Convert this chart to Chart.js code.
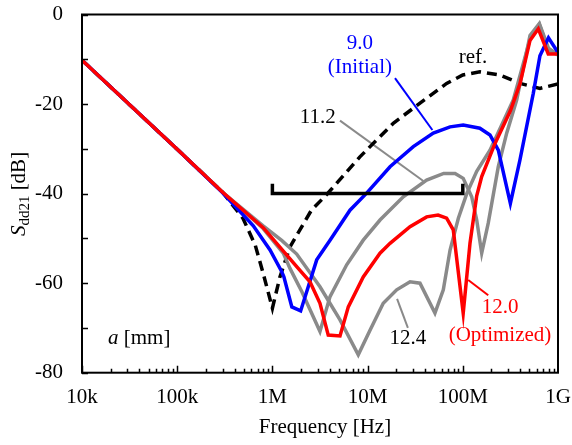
<!DOCTYPE html>
<html><head><meta charset="utf-8">
<script src="https://cdn.jsdelivr.net/npm/chart.js@4.4.1/dist/chart.umd.min.js"></script>
<style>html,body{margin:0;padding:0;background:#fff}#wrap{width:572px;height:445px}</style>
</head><body><div id="wrap"><canvas id="c" width="572" height="445"></canvas></div>
<script>
const FONT = "'Liberation Serif','Times New Roman',serif";

// axis ticks
const xTickValues = [1e4, 1e5, 1e6, 1e7, 1e8, 1e9];
const xTickLabels = ['10k', '100k', '1M', '10M', '100M', '1G'];
const yTickValues = [-80, -60, -40, -20, 0];

// series: reference (dashed)
const refFreq = [1e4, 1e5, 3e5, 4.9e5, 6.6e5, 8.0e5, 1.0e6, 1.2e6, 1.53e6, 2.57e6, 3.72e6, 8.3e6, 1.86e7, 3.55e7, 6.76e7, 1e8, 1.51e8, 2.45e8, 3.98e8, 6.46e8, 1e9];
const refDb   = [-10.2, -30.1, -39.7, -45.5, -51.5, -57.8, -65.6, -58.6, -51.9, -43.7, -40.2, -31.8, -24.3, -19.8, -15.4, -13.5, -12.8, -13.5, -15.4, -16.5, -15.5];

// a = 9.0 (Initial)
const initFreq = [1e4, 1e5, 3e5, 6.3e5, 9.44e5, 1.25e6, 1.32e6, 1.6e6, 1.98e6, 2.38e6, 2.92e6, 4.03e6, 6.53e6, 9.77e6, 1.72e7, 3.02e7, 4.9e7, 7.35e7, 1.01e8, 1.51e8, 1.93e8, 2.36e8, 3.16e8, 3.98e8, 5.5e8, 6.46e8, 7.94e8, 1e9];
const initDb   = [-10.2, -30.1, -39.8, -47.2, -52.6, -57.4, -58.6, -65.3, -66.2, -60.8, -54.8, -50.4, -43.7, -39.9, -34.0, -29.5, -26.5, -25.1, -24.7, -25.4, -26.9, -30.3, -42.2, -32.5, -17.6, -9.2, -5.2, -8.5];

// a = 12.0 (Optimized)
const optFreq = [1e4, 1e5, 3e5, 8.0e5, 1.8e6, 2.48e6, 3.16e6, 3.86e6, 5.13e6, 6.27e6, 9.0e6, 1.35e7, 1.72e7, 2.79e7, 4.17e7, 5.5e7, 6.76e7, 7.94e7, 1.01e8, 1.19e8, 1.4e8, 1.58e8, 2.18e8, 3.16e8, 3.98e8, 5.08e8, 6.21e8, 7.9e8, 1e9];
const optDb   = [-10.2, -30.1, -39.7, -47.6, -56.3, -59.7, -64.5, -71.6, -71.8, -65.3, -58.6, -53.3, -51.1, -47.4, -45.2, -44.8, -45.5, -48.1, -66.7, -51.1, -40.5, -36.2, -28.8, -21.5, -15.5, -5.8, -3.2, -8.8, -8.8];

// a = 11.2
const a112Freq = [1e4, 1e5, 3e5, 8.0e5, 1.3e6, 1.53e6, 2.04e6, 3.16e6, 4.03e6, 6.03e6, 9.0e6, 1.35e7, 2.37e7, 4.17e7, 6.3e7, 8.3e7, 1.01e8, 1.24e8, 1.4e8, 1.58e8, 1.85e8, 2.36e8, 2.89e8, 3.68e8, 5.08e8, 6.37e8, 7.94e8, 1e9];
const a112Db   = [-10.2, -30.1, -39.7, -47.8, -53.3, -56.7, -61.9, -70.8, -63.0, -55.9, -50.4, -45.9, -40.7, -37.0, -35.5, -35.5, -36.6, -40.7, -45.9, -53.3, -46.6, -34.0, -26.5, -19.1, -4.7, -2.0, -7.5, -9.0];

// a = 12.4
const a124Freq = [1e4, 1e5, 3e5, 8.0e5, 1.26e6, 1.8e6, 3.16e6, 5.13e6, 7.98e6, 1.06e7, 1.46e7, 2.02e7, 2.79e7, 3.55e7, 5.1e7, 6.24e7, 7.35e7, 8.98e7, 1.1e8, 1.4e8, 1.93e8, 3.39e8, 5.08e8, 6.37e8, 7.94e8, 1e9];
const a124Db   = [-10.2, -30.1, -39.7, -47.2, -50.5, -53.5, -60.8, -68.2, -76.0, -70.5, -64.5, -61.5, -59.7, -60.0, -66.7, -61.5, -52.6, -45.5, -40.0, -35.0, -30.3, -19.1, -5.5, -2.2, -8.0, -9.0];

// -40 dB bracket 1M..100M
const barFreq = [1e6, 1e6, 1e8, 1e8];
const barDb   = [-37.8, -40, -40, -37.8];

// annotation labels (text, freq, dB, colour)
const noteText  = ['9.0', '(Initial)', 'ref.', '11.2', '12.4', '12.0', '(Optimized)'];
const noteFreq  = [8.3e6, 8.3e6, 1.28e8, 3.0e6, 2.65e7, 2.46e8, 2.46e8];
const noteDb    = [-6.4, -11.9, -9.5, -23.1, -72.3, -65.5, -71.6];
const noteColor = ['#0000ff', '#0000ff', '#000', '#000', '#000', '#ff0000', '#ff0000'];

// leader lines
const leadInitFreq = [1.94e7, 4.79e7];  const leadInitDb = [-14.2, -25.8];
const lead112Freq  = [5.13e6, 3.85e7];  const lead112Db  = [-23.7, -37.2];
const lead124Freq  = [2.04e7, 2.65e7];  const lead124Db  = [-63.5, -70.0];
const leadOptFreq  = [1.14e8, 1.85e8];  const leadOptDb  = [-59.3, -62.7];

function pts(f, d) { return f.map((v, i) => ({x: v, y: d[i]})); }
function line(label, f, d, color, w, dash) {
  return {label, data: pts(f, d), borderColor: color, backgroundColor: color, borderWidth: w,
    borderDash: dash || [], pointRadius: 0, showLine: true, tension: 0, fill: false,
    borderJoinStyle: 'miter', borderCapStyle: 'butt'};
}

const GRAY = '#8a8a8a';
const datasets = [
  line('bar', barFreq, barDb, '#000', 3.5),
  line('12.0', optFreq, optDb, '#ff0000', 3.5),
  line('9.0', initFreq, initDb, '#0000ff', 3.5),
  line('11.2', a112Freq, a112Db, GRAY, 3.5),
  line('12.4', a124Freq, a124Db, GRAY, 3.5),
  line('ref', refFreq, refDb, '#000', 3.5, [10, 6]),
  line('lead9', leadInitFreq, leadInitDb, '#0000ff', 2),
  line('lead112', lead112Freq, lead112Db, GRAY, 2),
  line('lead124', lead124Freq, lead124Db, GRAY, 2),
  line('lead12', leadOptFreq, leadOptDb, '#ff0000', 2),
];

const deco = {
  id: 'deco',
  afterDraw(chart) {
    const ctx = chart.ctx, a = chart.chartArea;
    const xs = chart.scales.x, ys = chart.scales.y;
    ctx.save();
    ctx.strokeStyle = '#000';
    ctx.lineWidth = 2;
    ctx.strokeRect(a.left, a.top, a.right - a.left, a.bottom - a.top);
    ctx.lineWidth = 1.5;
    ctx.beginPath();
    for (let d = 1e4; d < 1e9; d *= 10) {
      for (let m = 1; m <= 9; m++) {
        const v = d * m;
        const px = Math.round(xs.getPixelForValue(v)) + 0.5;
        const len = (m === 1) ? 7 : 4;
        ctx.moveTo(px, a.bottom); ctx.lineTo(px, a.bottom - len);
      }
    }
    for (let v = -80; v <= 0; v += 10) {
      const py = Math.round(ys.getPixelForValue(v)) + 0.5;
      ctx.moveTo(a.left, py); ctx.lineTo(a.left + 6, py);
    }
    ctx.stroke();
    ctx.textAlign = 'center';
    ctx.textBaseline = 'middle';
    ctx.font = '21px ' + FONT;
    for (let i = 0; i < noteText.length; i++) {
      ctx.fillStyle = noteColor[i];
      ctx.fillText(noteText[i], xs.getPixelForValue(noteFreq[i]), ys.getPixelForValue(noteDb[i]));
    }
    ctx.fillStyle = '#000';
    ctx.textAlign = 'left';
    ctx.textBaseline = 'alphabetic';
    ctx.font = 'italic 21px ' + FONT;
    const ax = 108, ay = 344;
    ctx.fillText('a', ax, ay);
    const wa = ctx.measureText('a ').width;
    ctx.font = '21px ' + FONT;
    ctx.fillText('[mm]', ax + wa, ay);
    ctx.textAlign = 'center';
    ctx.fillText('Frequency [Hz]', 325, 433);
    ctx.translate(25, 194);
    ctx.rotate(-Math.PI / 2);
    ctx.textAlign = 'left';
    const fMain = '21px ' + FONT, fIt = 'italic 21px ' + FONT, fSub = '15px ' + FONT;
    ctx.font = fIt; const w1 = ctx.measureText('S').width;
    ctx.font = fSub; const w2 = ctx.measureText('dd21').width;
    ctx.font = fMain; const w3 = ctx.measureText(' [dB]').width;
    let x = -(w1 + w2 + w3) / 2;
    ctx.font = fIt; ctx.fillText('S', x, 0); x += w1;
    ctx.font = fSub; ctx.fillText('dd21', x, 4); x += w2;
    ctx.font = fMain; ctx.fillText(' [dB]', x, 0);
    ctx.restore();
  }
};

new Chart(document.getElementById('c'), {
  type: 'scatter',
  data: {datasets},
  options: {
    responsive: false,
    animation: false,
    events: [],
    layout: {padding: {left: 0, right: 14, top: 14.5, bottom: 0}},
    plugins: {legend: {display: false}, tooltip: {enabled: false}},
    scales: {
      x: {
        type: 'logarithmic', min: 1e4, max: 1e9,
        grid: {display: false, drawTicks: false},
        border: {display: false},
        afterBuildTicks: (s) => { s.ticks = xTickValues.map(v => ({value: v})); },
        afterFit: (s) => { s.height = 72.3; s.paddingLeft = 0; s.paddingRight = 0; },
        ticks: {
          color: '#000', font: {family: FONT, size: 21}, padding: 12, maxRotation: 0, autoSkip: false,
          callback: (v) => { const i = xTickValues.indexOf(v); return i >= 0 ? xTickLabels[i] : ''; }
        }
      },
      y: {
        type: 'linear', min: -80, max: 0,
        grid: {display: false, drawTicks: false},
        border: {display: false},
        afterBuildTicks: (s) => { s.ticks = yTickValues.map(v => ({value: v})); },
        afterFit: (s) => { s.width = 82; s.paddingTop = 0; s.paddingBottom = 0; },
        ticks: {color: '#000', font: {family: FONT, size: 21}, padding: 19}
      }
    }
  },
  plugins: [deco]
});
</script></body></html>
